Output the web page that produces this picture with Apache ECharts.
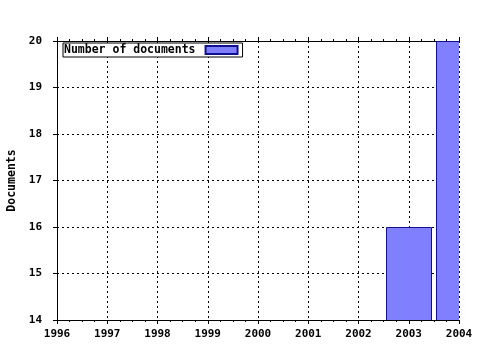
<!DOCTYPE html>
<html><head><meta charset="utf-8">
<script src="https://cdn.jsdelivr.net/npm/echarts@6/dist/echarts.min.js"></script>
<style>html,body{margin:0;padding:0;background:#fff}#c{width:480px;height:350px}</style>
</head><body><div id="c"></div>
<script>
const years = [2003, 2004];
const documents = [16, 20];
const seriesName = 'Number of documents';
const yTitle = 'Documents';
const xMin = 1996, xMax = 2004, yMin = 14, yMax = 20;
const barFraction = 0.9;

const font = 'DejaVu Sans Mono';
const chart = echarts.init(document.getElementById('c'), null, {renderer: 'canvas'});
const data = years.map((y, i) => [y, documents[i]]);
const barColor = '#8080ff', barBorder = '#10108c';
chart.setOption({
  animation: false,
  backgroundColor: '#fff',
  grid: {left: 57, right: 21, top: 41, bottom: 30, show: false, containLabel: false, outerBoundsMode: 'none'},
  legend: {
    left: 63, top: 43, align: 'right', orient: 'horizontal',
    backgroundColor: '#fff', borderColor: '#000', borderWidth: 1, borderRadius: 0,
    padding: [1, 4, 1, 1], itemWidth: 32, itemHeight: 8, itemGap: 0,
    icon: 'rect',
    textStyle: {fontFamily: font, fontWeight: 'bold', fontSize: 11.5, color: '#000', padding: [0, 5, 0, 0]},
    data: [seriesName]
  },
  xAxis: [{
    type: 'value', min: xMin, max: xMax, interval: 1, position: 'bottom',
    axisLine: {show: true, onZero: false, lineStyle: {color: '#000', width: 1}},
    axisTick: {show: true, length: 4, lineStyle: {color: '#000'}},
    minorTick: {show: true, splitNumber: 4, length: 2, lineStyle: {color: '#000'}},
    axisLabel: {fontFamily: font, fontWeight: 'bold', fontSize: 11, color: '#000', margin: 9, formatter: v => String(v)},
    splitLine: {show: true, lineStyle: {color: '#000', type: [2, 3], width: 1}}
  }, {
    type: 'value', min: xMin, max: xMax, interval: 1, position: 'top',
    axisLine: {show: true, onZero: false, lineStyle: {color: '#000', width: 1}},
    axisTick: {show: true, length: 4, lineStyle: {color: '#000'}},
    minorTick: {show: true, splitNumber: 4, length: 2, lineStyle: {color: '#000'}},
    axisLabel: {show: false},
    splitLine: {show: false}
  }],
  yAxis: {
    type: 'value', min: yMin, max: yMax, interval: 1,
    name: yTitle, nameLocation: 'middle', nameGap: 37, nameRotate: 90,
    nameTextStyle: {fontFamily: font, fontWeight: 'bold', fontSize: 11.5, color: '#000'},
    axisLine: {show: true, onZero: false, lineStyle: {color: '#000', width: 1}},
    axisTick: {show: true, length: 4, lineStyle: {color: '#000'}},
    axisLabel: {fontFamily: font, fontWeight: 'bold', fontSize: 11, color: '#000', margin: 15},
    splitLine: {show: true, lineStyle: {color: '#000', type: [2, 3], width: 1}}
  },
  series: [{
    name: seriesName, type: 'custom', xAxisIndex: 0, clip: true,
    itemStyle: {color: barColor, borderColor: barBorder, borderWidth: 1},
    encode: {x: 0, y: 1},
    renderItem: function (params, api) {
      const x = api.value(0), y = api.value(1);
      const top = api.coord([x, y]);
      const base = api.coord([x, yMin]);
      const w = api.size([barFraction, 0])[0];
      return {
        type: 'rect',
        shape: {x: Math.round(top[0] - w / 2) + 0.5, y: Math.round(top[1]) + 0.5, width: Math.round(w), height: Math.round(base[1] - top[1])},
        style: {fill: barColor, stroke: barBorder, lineWidth: 1}
      };
    },
    data: data
  }]
});
</script></body></html>
